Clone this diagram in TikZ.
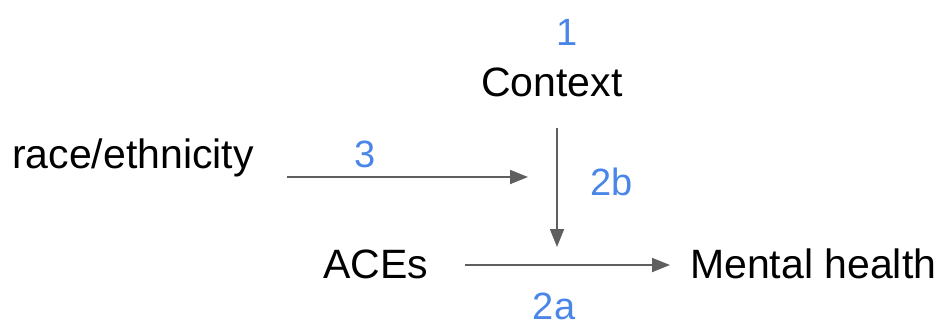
\documentclass[tikz,border=0pt]{standalone}
\usepackage{fontspec}
\setmainfont{Liberation Sans}
\usetikzlibrary{arrows.meta}
\definecolor{numblue}{HTML}{4A86E8}
\definecolor{arrgray}{HTML}{5F5F5F}
\begin{document}
\begin{tikzpicture}[x=1pt,y=-1pt,
  lbl/.style={inner sep=0pt,font=\fontsize{41}{49}\selectfont,text=black},
  num/.style={inner sep=0pt,font=\fontsize{38}{46}\selectfont,text=numblue},
  conn/.style={draw=arrgray,line width=1.8pt,-{Triangle[length=18pt,width=14pt]}}]
\useasboundingbox (0,0) rectangle (944,325);
\node[lbl,anchor=base] (context) at (552,96) {Context};
\node[num,anchor=base] (n1) at (567,45) {1};
\node[lbl,anchor=base west] (race) at (12,168) {race/ethnicity};
\node[num,anchor=base] (n3) at (365,167) {3};
\node[num,anchor=base west] (n2b) at (590,195) {2b};
\node[lbl,anchor=base west] (aces) at (323,278) {ACEs};
\node[num,anchor=base] (n2a) at (554,319) {2a};
\node[lbl,anchor=base west] (mh) at (690,278) {Mental health};
\coordinate (s3) at (287,177);
\coordinate (e3) at (528,177);
\coordinate (sb) at (557,128);
\coordinate (eb) at (557,247);
\coordinate (sa) at (465,265);
\coordinate (ea) at (670,265);
\draw[conn] (s3) -- (e3);
\draw[conn] (sb) -- (eb);
\draw[conn] (sa) -- (ea);
\end{tikzpicture}
\end{document}
